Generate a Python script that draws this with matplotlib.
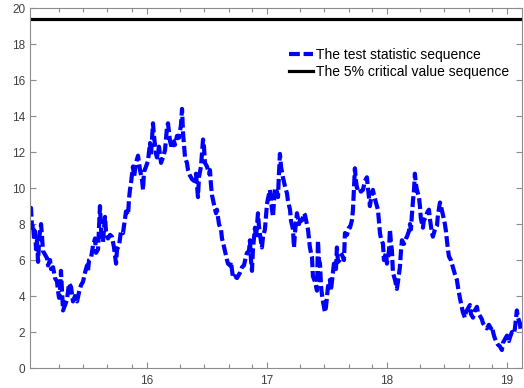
import matplotlib
matplotlib.use("Agg")
import matplotlib.pyplot as plt

plt.rcParams['font.family'] = ['Liberation Sans', 'DejaVu Sans']

# time axis (years) and test statistic values
t = [15.025, 15.033, 15.042, 15.05, 15.058, 15.067, 15.075, 15.083, 15.092, 15.10,
     15.108, 15.117, 15.125, 15.133, 15.15, 15.167, 15.175, 15.192, 15.20, 15.217,
     15.233, 15.25, 15.258, 15.267, 15.275, 15.283, 15.292, 15.30, 15.317, 15.333,
     15.35, 15.367, 15.383, 15.40, 15.417, 15.433, 15.45, 15.467, 15.483, 15.50,
     15.508, 15.517, 15.533, 15.55, 15.567, 15.575, 15.592, 15.60, 15.608, 15.617,
     15.633, 15.65, 15.658, 15.675, 15.692, 15.708, 15.725, 15.742, 15.75, 15.767,
     15.783, 15.80, 15.817, 15.825, 15.842, 15.85, 15.858,
     15.867, 15.883, 15.892, 15.908, 15.925, 15.942, 15.958, 15.967, 15.975, 15.992,
     16.008, 16.025, 16.033, 16.05, 16.058, 16.075, 16.083, 16.10, 16.117, 16.133,
     16.15, 16.167, 16.175, 16.192, 16.208, 16.225, 16.233, 16.25, 16.267, 16.283,
     16.292, 16.30, 16.317, 16.333, 16.342, 16.358, 16.375, 16.392, 16.408, 16.425,
     16.433, 16.45, 16.467, 16.475, 16.483, 16.50, 16.517, 16.525, 16.533, 16.542,
     16.558, 16.575, 16.583, 16.60, 16.617, 16.625, 16.633, 16.65, 16.667, 16.675,
     16.692, 16.70, 16.717, 16.733, 16.75,
     16.775, 16.792, 16.808, 16.825, 16.833, 16.85, 16.858, 16.867, 16.875, 16.883,
     16.90, 16.908, 16.925, 16.933, 16.942, 16.958, 16.967, 16.983, 17.00, 17.008,
     17.025, 17.033, 17.05, 17.058, 17.067, 17.083, 17.092, 17.10, 17.108, 17.117,
     17.133, 17.15, 17.167, 17.175, 17.192, 17.20, 17.217, 17.225, 17.233, 17.25,
     17.267, 17.275, 17.292, 17.308, 17.317, 17.333, 17.342, 17.358, 17.367, 17.375,
     17.383, 17.40, 17.417, 17.425, 17.433, 17.442, 17.45, 17.458, 17.467, 17.483,
     17.492, 17.508, 17.525, 17.533, 17.55, 17.558, 17.575, 17.583, 17.592, 17.608,
     17.625, 17.642, 17.65, 17.667, 17.683, 17.692, 17.708, 17.717, 17.725, 17.733,
     17.742, 17.75, 17.767, 17.783, 17.80, 17.817, 17.833, 17.842, 17.858, 17.867,
     17.883, 17.892, 17.908, 17.925, 17.933, 17.942, 17.95, 17.967, 17.975, 17.992,
     18.00, 18.017, 18.025, 18.033, 18.042, 18.05, 18.067, 18.083, 18.092, 18.108,
     18.117, 18.125, 18.142, 18.158, 18.167, 18.183, 18.192, 18.20, 18.208, 18.217,
     18.225, 18.233, 18.242, 18.25, 18.267, 18.275, 18.283, 18.30, 18.308, 18.325,
     18.333, 18.35, 18.358, 18.375, 18.383, 18.40, 18.417, 18.425, 18.442, 18.45,
     18.467, 18.483, 18.492, 18.508, 18.517, 18.533, 18.55, 18.567, 18.583, 18.592,
     18.608, 18.617, 18.633, 18.65, 18.658, 18.675, 18.692, 18.70, 18.717, 18.733,
     18.75, 18.758, 18.775, 18.792, 18.80, 18.817, 18.833, 18.85, 18.867, 18.875,
     18.892, 18.908, 18.925, 18.942, 18.958, 18.967, 18.983, 19.00, 19.017, 19.025,
     19.042, 19.058, 19.067, 19.083, 19.092, 19.108, 19.117]

stat = [8.8, 8.9, 7.8, 8.0, 7.2, 7.6, 6.6, 7.1, 5.9, 7.0,
        7.6, 8.0, 7.3, 6.5, 6.3, 6.1, 5.7, 6.0, 5.5, 5.6,
        5.0, 4.8, 4.3, 3.9, 4.4, 5.4, 4.2, 3.2, 3.5, 3.8,
        4.7, 4.5, 3.7, 4.0, 3.7, 4.2, 4.6, 4.8, 5.3, 5.7,
        5.4, 6.0, 6.1, 6.8, 7.2, 6.4, 6.6, 7.8, 9.0, 7.7,
        7.0, 8.4, 7.6, 7.2, 7.4, 7.3, 6.7, 5.8, 6.6, 6.8,
        7.6, 7.5, 8.3, 8.7, 8.5, 9.4, 9.9,
        10.3, 11.2, 10.6, 11.4, 11.8, 11.0, 10.5, 9.9, 10.9, 11.2,
        11.5, 12.5, 11.8, 13.6, 12.9, 11.9, 11.7, 12.3, 11.4, 11.7,
        12.1, 13.4, 13.6, 12.6, 12.2, 12.6, 12.4, 12.9, 12.8, 13.5,
        14.4, 13.1, 11.7, 11.4, 11.0, 10.7, 10.5, 10.4, 10.8, 9.5,
        10.6, 11.2, 12.7, 12.3, 11.4, 11.2, 10.8, 11.0, 10.2, 9.6,
        9.1, 8.6, 8.8, 8.0, 7.7, 7.2, 7.0, 6.5, 6.0, 5.8,
        5.7, 5.9, 5.0, 5.1, 5.0,
        5.3, 5.6, 5.7, 6.2, 6.4, 6.5, 7.1, 6.0, 5.4, 6.6,
        7.8, 7.2, 8.6, 7.9, 7.4, 6.7, 7.3, 7.7, 9.1, 9.4,
        9.9, 9.3, 8.4, 9.2, 10.0, 9.8, 9.5, 10.8, 11.9, 11.2,
        10.6, 10.1, 9.7, 9.3, 8.8, 8.2, 7.7, 6.7, 7.5, 8.6,
        8.0, 8.2, 8.2, 8.6, 8.5, 8.0, 7.7, 6.7, 6.4, 6.2,
        5.1, 4.8, 4.3, 7.1, 6.0, 5.8, 4.6, 4.1, 3.7, 3.1,
        3.4, 4.5, 4.9, 4.3, 5.3, 5.8, 5.5, 6.7, 5.9, 6.0,
        6.3, 6.0, 7.5, 7.4, 7.8, 7.8, 8.2, 8.8, 10.0, 11.1,
        10.4, 10.0, 10.1, 9.8, 9.9, 10.4, 10.6, 10.0, 9.0, 9.4,
        9.9, 9.6, 9.2, 8.8, 8.2, 7.5, 7.2, 6.9, 6.0, 6.4,
        5.8, 6.5, 7.7, 7.0, 6.5, 5.3, 4.9, 4.4, 4.8, 5.6,
        6.5, 7.1, 6.9, 7.2, 7.3, 7.6, 8.0, 7.7, 8.5, 9.3,
        9.8, 10.8, 10.2, 9.9, 9.5, 9.0, 8.3, 7.8, 8.2, 8.4,
        8.6, 8.8, 8.3, 7.5, 7.3, 7.7, 7.9, 8.5, 9.2, 9.0,
        8.5, 8.0, 7.6, 6.6, 6.2, 6.0, 5.6, 5.2, 4.9, 4.5,
        3.9, 3.6, 3.1, 2.8, 3.1, 3.3, 3.5, 3.0, 2.8, 3.2,
        3.4, 3.1, 2.9, 2.7, 2.5, 2.3, 2.2, 2.4, 2.2, 2.3,
        1.8, 1.5, 1.3, 1.2, 1.0, 1.4, 1.6, 1.8, 1.5, 1.7,
        2.0, 1.9, 2.2, 3.2, 2.8, 2.5, 2.0]

crit_value = 19.37
xlim = (15.025, 19.125)
ylim = (0, 20)
year_ticks = [16, 17, 18, 19]
minor_ticks = [15.265, 15.465, 15.665, 15.875,
               16.275, 16.475, 16.68, 16.875,
               17.275, 17.475, 17.68, 17.875,
               18.275, 18.475, 18.68, 18.875]

fig = plt.figure(figsize=(5.24, 3.88), dpi=100)
ax = fig.add_axes([0.0573, 0.0515, 0.9387, 0.9275])

ax.plot(t, stat, color='#0000ff', lw=3.0, dashes=(2.6, 0.9),
        label='The test statistic sequence')
ax.plot(xlim, [crit_value, crit_value], color='black', lw=2.3,
        label='The 5% critical value sequence')

ax.set_xlim(xlim)
ax.set_ylim(ylim)
ax.set_xticks(year_ticks)
ax.set_xticks(minor_ticks, minor=True)
ax.set_yticks(range(0, 21, 2))

for s in ax.spines.values():
    s.set_color('#8c8c8c')
    s.set_linewidth(0.8)
ax.tick_params(which='both', direction='in', top=True, right=True,
               color='#8c8c8c', labelcolor='#404040', labelsize=8.5)
ax.tick_params(which='major', length=4, width=0.8)
ax.tick_params(which='minor', length=3, width=0.8)
ax.tick_params(axis='x', pad=5)

leg = ax.legend(loc='upper right', bbox_to_anchor=(1.0, 0.925), frameon=False,
                fontsize=10, handlelength=1.7, handletextpad=0.25,
                labelspacing=0.22)

fig.savefig('out.png', dpi=100)
